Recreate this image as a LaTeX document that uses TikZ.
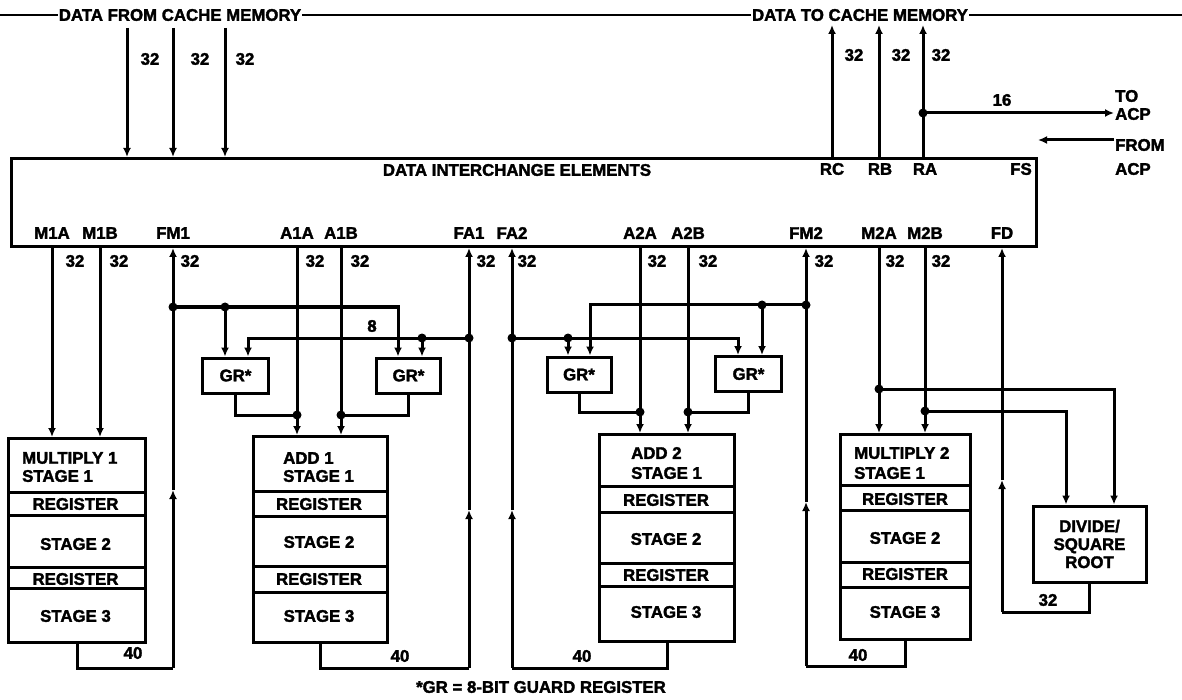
\documentclass[tikz,border=0pt]{standalone}
\usepackage{fontspec}
\setmainfont{Liberation Sans}[BoldFeatures={FakeBold=2}]
\usetikzlibrary{arrows.meta,calc}
\begin{document}
\begin{tikzpicture}[x=1pt,y=-1pt,
  wirel/.style={line width=3pt},
  busline/.style={line width=2pt},
  arrowend/.style={-{Latex[length=9pt,width=8pt]}},
  unitbox/.style={draw,line width=3pt,inner sep=0pt},
  lbl/.style={font=\bfseries\fontsize{16.8}{18}\selectfont,inner sep=1pt,align=center},
  jdot/.style={circle,fill,inner sep=0pt,minimum size=9pt}]
\useasboundingbox (0,0) rectangle (1182,700);

% ---------- cache bus ----------
\node[lbl] (fromc) at (180,15) {DATA FROM CACHE MEMORY};
\node[lbl] (toc) at (860,15) {DATA TO CACHE MEMORY};
\coordinate (busL) at (0,15);
\coordinate (busR) at (1182,15);
\draw[busline] (busL) -- (fromc.west);
\draw[busline] (fromc.east) -- (toc.west);
\draw[busline] (toc.east) -- (busR);

% ---------- data interchange elements ----------
\node[unitbox,anchor=north west,minimum width=1025pt,minimum height=88pt] (die) at (10,157) {};
\node[lbl] (dtitle) at (517,170) {DATA INTERCHANGE ELEMENTS};
\node[lbl] (lrc) at (832,169) {RC};
\node[lbl] (lrb) at (880,169) {RB};
\node[lbl] (lra) at (925,169) {RA};
\node[lbl] (lfs) at (1021,169) {FS};

% cache in
\coordinate (ci1) at (127,28);
\coordinate (ci2) at (173,28);
\coordinate (ci3) at (225,28);
\foreach \c in {ci1,ci2,ci3} \draw[wirel,arrowend] (\c) -- (\c |- die.north);
\node[lbl] (w1) at (150,59) {32};
\node[lbl] (w2) at (200,59) {32};
\node[lbl] (w3) at (245,59) {32};

% cache out
\coordinate (co1) at (832,25);
\coordinate (co2) at (879,25);
\coordinate (co3) at (923,25);
\foreach \c in {co1,co2,co3} \draw[wirel,arrowend] (\c |- die.north) -- (\c);
\node[lbl] (w4) at (854,55) {32};
\node[lbl] (w5) at (901,55) {32};
\node[lbl] (w6) at (941,55) {32};

% to / from ACP
\coordinate (raj) at (923,113);
\node[lbl,anchor=west,align=left] (toacp) at (1114,105) {TO\\ACP};
\draw[wirel,arrowend] (raj) -- (raj -| toacp.west);
\node[jdot] (rajd) at (raj) {};
\node[lbl] (w16) at (1002,100) {16};
\node[lbl,anchor=west,align=left] (fromacp) at (1114,157) {FROM\\[6pt]ACP};
\draw[wirel,arrowend] (fromacp.west |- 0,140) -- (die.east |- 0,140);

% port labels
\foreach \n/\lab/\x in {lm1a/M1A/52, lm1b/M1B/100, lfm1/FM1/173, la1a/A1A/297, la1b/A1B/341, lfa1/FA1/469, lfa2/FA2/512, la2a/A2A/640, la2b/A2B/688, lfm2/FM2/806, lm2a/M2A/879, lm2b/M2B/925, lfd/FD/1002}
  \node[lbl] (\n) at (\x,233) {\lab};
\foreach \n/\x in {b1/75,b2/119,b3/190,b4/315,b5/360,b6/486,b7/527,b8/657,b9/708,b10/824,b11/895,b12/941}
  \node[lbl] (\n) at (\x,261) {32};

% ---------- units ----------
\node[unitbox,anchor=north west,minimum width=137pt,minimum height=204pt] (mul1) at (7,437) {};
\node[unitbox,anchor=north west,minimum width=134pt,minimum height=206pt] (add1) at (252,435) {};
\node[unitbox,anchor=north west,minimum width=135pt,minimum height=207pt] (add2) at (598,433) {};
\node[unitbox,anchor=north west,minimum width=130pt,minimum height=205pt] (mul2) at (839,433) {};
\foreach \u/\a/\b/\c/\d in {mul1/492/515/567/588, add1/491/516/566/592, add2/486/512/563/586, mul2/485/510/562/587}
  \foreach \yy in {\a,\b,\c,\d} \draw[wirel] (\u.west |- 0,\yy) -- (\u.east |- 0,\yy);

\node[lbl,anchor=west] (m1t1) at (21,458) {MULTIPLY 1};
\node[lbl,anchor=west] (m1t2) at (21,476) {STAGE 1};
\node[lbl] (m1r1) at (75.5,504) {REGISTER};
\node[lbl] (m1s2) at (75.5,544) {STAGE 2};
\node[lbl] (m1r2) at (75.5,579) {REGISTER};
\node[lbl] (m1s3) at (75.5,616) {STAGE 3};

\node[lbl,anchor=west] (a1t1) at (282,458) {ADD 1};
\node[lbl,anchor=west] (a1t2) at (282,476) {STAGE 1};
\node[lbl] (a1r1) at (319,504) {REGISTER};
\node[lbl] (a1s2) at (319,542) {STAGE 2};
\node[lbl] (a1r2) at (319,579) {REGISTER};
\node[lbl] (a1s3) at (319,616) {STAGE 3};

\node[lbl,anchor=west] (a2t1) at (630,453) {ADD 2};
\node[lbl,anchor=west] (a2t2) at (630,473) {STAGE 1};
\node[lbl] (a2r1) at (666,500) {REGISTER};
\node[lbl] (a2s2) at (666,539) {STAGE 2};
\node[lbl] (a2r2) at (666,575) {REGISTER};
\node[lbl] (a2s3) at (666,612) {STAGE 3};

\node[lbl,anchor=west] (m2t1) at (853,453) {MULTIPLY 2};
\node[lbl,anchor=west] (m2t2) at (853,473) {STAGE 1};
\node[lbl] (m2r1) at (905,499) {REGISTER};
\node[lbl] (m2s2) at (905,538) {STAGE 2};
\node[lbl] (m2r2) at (905,574) {REGISTER};
\node[lbl] (m2s3) at (905,612) {STAGE 3};

\node[unitbox,lbl,minimum width=113pt,minimum height=76pt] (div) at (1089.5,544) {DIVIDE/\\SQUARE\\ROOT};

% ---------- guard registers ----------
\node[unitbox,lbl,minimum width=66pt,minimum height=35pt] (gr1) at (235.5,375.5) {GR*};
\node[unitbox,lbl,minimum width=64pt,minimum height=35pt] (gr2) at (408.5,375.5) {GR*};
\node[unitbox,lbl,minimum width=64pt,minimum height=35pt] (gr3) at (579,374.5) {GR*};
\node[unitbox,lbl,minimum width=66pt,minimum height=35pt] (gr4) at (748.5,374) {GR*};

\coordinate (j1) at (173,307);
\coordinate (j2) at (225,307);
\coordinate (j3) at (469,338);
\coordinate (j4) at (422,338);
\coordinate (j5) at (297,415);
\coordinate (j6) at (341,415);
\coordinate (j7) at (512,338);
\coordinate (j8) at (568,338);
\coordinate (j9) at (806,305);
\coordinate (j10) at (762,305);
\coordinate (j11) at (640,412);
\coordinate (j12) at (688,412);
\coordinate (j13) at (879,389);
\coordinate (j14) at (925,411);
\coordinate (c1) at (398,307);
\coordinate (c2) at (248,338);
\coordinate (c3) at (738,338);
\coordinate (c4) at (590,305);
\coordinate (c5) at (1114,389);
\coordinate (c6) at (1066,411);

\draw[wirel,arrowend] (j1) -- (c1) -- (c1 |- gr2.north);
\draw[wirel,arrowend] (j2) -- (j2 |- gr1.north);
\draw[wirel,arrowend] (j3) -- (c2) -- (c2 |- gr1.north);
\draw[wirel,arrowend] (j4) -- (j4 |- gr2.north);
\node[lbl] (w8) at (372,326) {8};
\draw[wirel] (gr1.south) |- (j5);
\draw[wirel] (gr2.south) |- (j6);

\draw[wirel,arrowend] (j7) -- (c3) -- (c3 |- gr4.north);
\draw[wirel,arrowend] (j8) -- (j8 |- gr3.north);
\draw[wirel,arrowend] (j9) -- (c4) -- (c4 |- gr3.north);
\draw[wirel,arrowend] (j10) -- (j10 |- gr4.north);
\draw[wirel] (gr3.south) |- (j11);
\draw[wirel] (gr4.south) |- (j12);

% ---------- operand lines ----------
\draw[wirel,arrowend] (lm1a |- die.south) -- (lm1a |- mul1.north);
\draw[wirel,arrowend] (lm1b |- die.south) -- (lm1b |- mul1.north);
\draw[wirel,arrowend] (la1a |- die.south) -- (la1a |- add1.north);
\draw[wirel,arrowend] (la1b |- die.south) -- (la1b |- add1.north);
\draw[wirel,arrowend] (la2a |- die.south) -- (la2a |- add2.north);
\draw[wirel,arrowend] (la2b |- die.south) -- (la2b |- add2.north);
\draw[wirel,arrowend] (lm2a |- die.south) -- (lm2a |- mul2.north);
\draw[wirel,arrowend] (lm2b |- die.south) -- (lm2b |- mul2.north);
\draw[wirel,arrowend] (j13) -- (c5) -- (c5 |- div.north);
\draw[wirel,arrowend] (j14) -- (c6) -- (c6 |- div.north);

% ---------- result lines ----------
\coordinate (fm1b) at (173,668);
\coordinate (fm1m) at (173,490);
\draw[wirel] (mul1.south) |- (fm1b);
\draw[wirel,arrowend] (fm1b) -- (fm1m);
\draw[wirel,arrowend] (fm1m) -- (lfm1 |- die.south);
\node[lbl] (w40a) at (133,653) {40};

\coordinate (fa1b) at (469,668);
\coordinate (fa1m) at (469,510);
\draw[wirel] (add1.south) |- (fa1b);
\draw[wirel,arrowend] (fa1b) -- (fa1m);
\draw[wirel,arrowend] (fa1m) -- (lfa1 |- die.south);
\node[lbl] (w40b) at (400,656) {40};

\coordinate (fa2b) at (512,668);
\coordinate (fa2m) at (512,510);
\draw[wirel] (add2.south) |- (fa2b);
\draw[wirel,arrowend] (fa2b) -- (fa2m);
\draw[wirel,arrowend] (fa2m) -- (lfa2 |- die.south);
\node[lbl] (w40c) at (582,656) {40};

\coordinate (fm2b) at (806,666);
\coordinate (fm2m) at (806,502);
\draw[wirel] (mul2.south) |- (fm2b);
\draw[wirel,arrowend] (fm2b) -- (fm2m);
\draw[wirel,arrowend] (fm2m) -- (lfm2 |- die.south);
\node[lbl] (w40d) at (858,655) {40};

\coordinate (fdb) at (1002,612);
\coordinate (fdm) at (1002,480);
\draw[wirel] (div.south) |- (fdb);
\draw[wirel,arrowend] (fdb) -- (fdm);
\draw[wirel,arrowend] (fdm) -- (lfd |- die.south);
\node[lbl] (w32d) at (1048,600) {32};

% junction dots
\foreach \j in {j1,j2,j3,j4,j5,j6,j7,j8,j9,j10,j11,j12,j13,j14}
  \node[jdot] (d\j) at (\j) {};

% footnote
\node[lbl] (note) at (541,687) {*GR = 8-BIT GUARD REGISTER};
\end{tikzpicture}
\end{document}
